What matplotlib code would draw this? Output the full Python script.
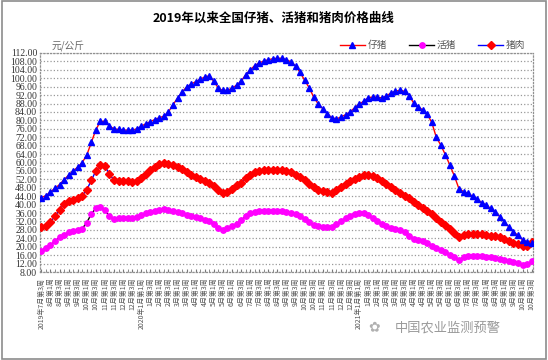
import matplotlib
matplotlib.use("Agg")
import matplotlib.pyplot as plt
from matplotlib.patches import Rectangle

plt.rcParams['font.family'] = ['Noto Sans CJK SC', 'DejaVu Sans']

# ---- data (weekly, 2019年7月第3周 .. 2021年10月第3周) ----
piglet = [43.3, 44.3, 46.0, 47.8, 49.5, 51.8, 54.0, 56.0, 57.8, 60.0,
          63.5, 69.5, 75.5, 79.6, 79.5, 77.3, 76.0, 75.7, 75.5, 75.3,
          75.3, 76.0, 77.2, 78.4, 79.4, 80.4, 81.3, 82.0, 84.0, 87.5,
          90.5, 93.5, 95.8, 97.2, 98.4, 99.6, 100.6, 101.2, 98.5, 95.3,
          94.2, 94.3, 95.3, 96.7, 98.6, 101.6, 104.0, 106.0, 107.3, 108.2,
          108.8, 109.3, 109.5, 109.5, 108.8, 107.8, 105.8, 102.8, 99.0, 95.5,
          91.0, 87.8, 85.5, 83.0, 81.3, 80.7, 81.6, 82.7, 84.0, 86.0,
          87.8, 89.0, 90.8, 91.1, 91.0, 90.7, 91.6, 93.0, 93.9, 94.3,
          93.8, 91.8, 88.3, 86.5, 85.0, 83.0, 79.0, 72.0, 68.2, 63.7,
          58.7, 53.5, 47.5, 46.2, 45.3, 44.0, 42.5, 41.0, 39.7, 38.2,
          36.5, 34.2, 31.7, 29.4, 27.0, 25.5, 23.2, 22.4, 22.0]

live_pig = [18.2, 19.5, 20.7, 22.6, 24.5, 25.8, 26.8, 27.4, 27.9, 28.6,
            31.5, 35.5, 38.3, 39.0, 37.3, 34.5, 33.0, 33.5, 33.6, 33.6,
            33.8, 34.2, 35.0, 35.8, 36.3, 36.8, 37.3, 37.7, 37.6, 37.0,
            36.6, 35.9, 35.3, 34.7, 34.1, 33.5, 32.8, 32.1, 30.8, 28.7,
            28.0, 28.8, 29.8, 30.8, 32.5, 34.4, 35.8, 36.7, 37.0, 37.2,
            37.2, 37.2, 37.2, 36.8, 36.5, 36.1, 35.6, 34.5, 33.0, 31.6,
            30.4, 29.9, 29.6, 29.5, 29.3, 30.7, 32.3, 33.5, 34.5, 35.5,
            35.9, 36.0, 35.3, 33.6, 32.0, 30.7, 29.8, 29.0, 28.5, 28.0,
            27.0, 25.3, 23.7, 23.0, 22.5, 21.6, 20.4, 19.4, 18.6, 17.7,
            16.3, 15.0, 13.8, 15.1, 15.5, 15.6, 15.6, 15.5, 15.3, 15.0,
            14.6, 14.2, 13.8, 13.4, 12.8, 12.2, 11.5, 11.6, 13.0]

pork = [29.2, 30.0, 31.8, 34.5, 37.6, 40.2, 41.6, 42.4, 43.2, 44.3,
        47.0, 51.5, 56.0, 58.7, 58.3, 54.5, 51.6, 51.0, 51.0, 51.0,
        50.9, 51.4, 52.6, 54.5, 56.5, 58.0, 59.2, 59.7, 59.5, 58.8,
        57.8, 56.9, 55.6, 54.2, 53.0, 52.0, 51.0, 50.2, 48.8, 46.8,
        45.7, 46.2, 47.5, 49.2, 50.5, 52.6, 54.3, 55.4, 56.0, 56.4,
        56.6, 56.6, 56.6, 56.3, 56.0, 55.3, 54.3, 53.0, 51.6, 49.8,
        48.2, 47.0, 46.5, 46.1, 45.6, 46.8, 48.4, 49.6, 51.0, 52.3,
        53.3, 54.2, 54.3, 53.8, 52.6, 51.2, 49.7, 48.3, 47.0, 45.7,
        44.3, 43.0, 41.3, 39.7, 38.5, 37.2, 35.5, 33.6, 31.8, 30.2,
        28.4, 26.6, 24.8, 25.8, 26.1, 26.1, 26.1, 25.9, 25.6, 25.3,
        24.9, 24.4, 23.7, 22.9, 22.0, 21.2, 20.5, 20.5, 22.2]

# week categories: (year, month, week)
months = [(2019, m) for m in range(7, 13)] + [(2020, m) for m in range(1, 13)] + \
         [(2021, m) for m in range(1, 11)]
weeks = []
for (y, m) in months:
    for w in range(1, 5):
        weeks.append((y, m, w))
weeks = weeks[2:2 + len(piglet)]  # starts at 2019年7月第3周

tick_labels = []
for k, (y, m, w) in enumerate(weeks):
    if k == 0 or (m == 1 and w == 1):
        tick_labels.append(f"{y}年{m}月第{w}周")
    else:
        tick_labels.append(f"{m}月第{w}周")

yticks = [8 + 4 * k for k in range(27)]

# ---- figure ----
fig = plt.figure(figsize=(5.48, 3.60), dpi=100)
fig.patches.append(Rectangle((0.004, 0.004), 0.992, 0.992, transform=fig.transFigure,
                             fill=False, edgecolor='#8c8c8c', linewidth=1.2))
ax = fig.add_axes([0.073, 0.2444, 0.8996, 0.6084])

x = list(range(len(piglet)))
ax.plot(x, piglet, color='red', linewidth=1.0, marker='^', markersize=4.6,
        markerfacecolor='#0000ff', markeredgecolor='#0000ff', label='仔猪', zorder=4)
ax.plot(x, live_pig, color='black', linewidth=1.0, marker='o', markersize=3.9,
        markerfacecolor='#ff00ff', markeredgecolor='#ff00ff', label='活猪', zorder=3)
ax.plot(x, pork, color='#0000ff', linewidth=1.0, marker='D', markersize=3.7,
        markerfacecolor='red', markeredgecolor='red', label='猪肉', zorder=3)

ax.set_xlim(-0.3, len(piglet) - 0.7)
ax.set_ylim(8, 112)
ax.set_yticks(yticks)
ax.set_yticklabels([f"{v:.2f}" for v in yticks], family=['Liberation Serif'],
                   fontsize=7, color='#333333')
ax.yaxis.grid(True, color='#999999', linestyle=':', linewidth=0.9)
ax.tick_params(axis='y', length=0, pad=2)

ax.set_xticks(x, minor=True)
ax.set_xticks(x[::2])
ax.set_xticklabels(tick_labels[::2], rotation=90, fontsize=5, color='#555555',
                   va='top', ha='center')
ax.tick_params(axis='x', which='both', direction='in', length=2, color='#777777', pad=4)

for s in ax.spines.values():
    s.set_color('#909090')
    s.set_linestyle(':')
    s.set_linewidth(0.9)

leg = ax.legend(loc='lower right', bbox_to_anchor=(0.995, 0.99), ncol=3, frameon=False,
                fontsize=7, handlelength=2.6, columnspacing=2.2, handletextpad=0.3,
                borderaxespad=0.1)
for t in leg.get_texts():
    t.set_color('#555555')

fig.text(0.5, 0.948, '2019年以来全国仔猪、活猪和猪肉价格曲线', ha='center', va='center',
         fontsize=9, fontweight='bold', color='black')
fig.text(0.094, 0.873, '元/公斤', ha='left', va='center', fontsize=7, color='#666666')
fig.text(0.72, 0.09, '中国农业监测预警', ha='left', va='center', fontsize=9.5,
         color='#9a9a9a')
fig.text(0.683, 0.09, '✿', ha='center', va='center', fontsize=10, color='#b0b0b0',
         family=['DejaVu Sans'])

fig.savefig('out.png', dpi=100)
